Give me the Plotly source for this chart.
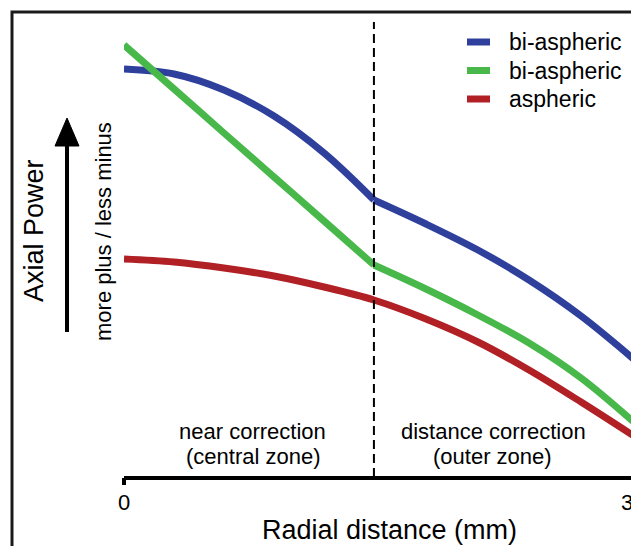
import plotly.graph_objects as go

# ---- data (arbitrary axial-power units vs radial distance in mm) ----
zone_boundary = 1.473

blue_x = [0, 0.295, 0.589, 0.884, 1.179, 1.473, 1.78, 2.086, 2.387, 2.694, 3.024]
blue_y = [4.08, 4.03, 3.87, 3.61, 3.24, 2.77, 2.53, 2.27, 1.97, 1.61, 1.15]

green_x = [0, 0.295, 0.589, 0.884, 1.179, 1.473, 1.78, 2.086, 2.387, 2.694, 3.024]
green_y = [4.32, 3.88, 3.44, 3.00, 2.56, 2.12, 1.88, 1.62, 1.34, 0.99, 0.52]

red_x = [0, 0.295, 0.589, 0.884, 1.179, 1.473, 1.78, 2.086, 2.387, 2.694, 3.024]
red_y = [2.18, 2.15, 2.09, 2.01, 1.90, 1.77, 1.58, 1.35, 1.07, 0.75, 0.39]

series_names = ["bi-aspheric", "bi-aspheric", "aspheric"]
series_colors = ["#2E3F9C", "#49B84A", "#B02025"]
series_kinked = [True, True, False]
tick_vals = [0, 3]
tick_text = ["0", "3"]

# ---- geometry (screen pixels; page body has an 8px margin) ----
OFF = 8
SW, SH = 639, 554
W, H = SW - OFF, SH - 2 * OFF
PL, PR, PT, PB = 124, 639, 20, 477          # plot area in screen pixels
X3 = 633                                   # screen x of the "3" tick
XMAX = 3 * (PR - PL) / (X3 - PL)
FONT = "Liberation Sans, Arial, Helvetica, sans-serif"

def px_x(sx):
    return (sx - PL) / (PR - PL)

def px_y(sy):
    return (PB - sy) / (PB - PT)

fig = go.Figure()
for xs, ys, name, c, kinked in zip([blue_x, green_x, red_x], [blue_y, green_y, red_y],
                                   series_names, series_colors, series_kinked):
    if kinked:
        # split at the zone boundary so the kink stays sharp while each zone is smooth
        k = xs.index(zone_boundary)
        segs = [(xs[:k + 1], ys[:k + 1]), (xs[k:], ys[k:])]
    else:
        segs = [(xs, ys)]
    for sx, sy in segs:
        fig.add_trace(go.Scatter(x=sx, y=sy, mode="lines", name=name, showlegend=False,
                                 line=dict(color=c, width=7, shape="spline", smoothing=1.0),
                                 hoverinfo="skip"))

shapes = [
    dict(type="line", xref="x", yref="paper", x0=zone_boundary, x1=zone_boundary, y0=0, y1=px_y(22),
         line=dict(color="black", width=2, dash="9px,5px")),
    # x axis line from 0 to 3
    dict(type="line", xref="x", yref="paper", x0=tick_vals[0], x1=tick_vals[-1], y0=px_y(478), y1=px_y(478),
         line=dict(color="black", width=4)),
    dict(type="rect", xref="paper", yref="paper", x0=px_x(12), x1=px_x(680), y0=px_y(600), y1=px_y(12),
         line=dict(color="#1a1a1a", width=3), fillcolor="rgba(0,0,0,0)", layer="below"),
    # arrow shaft + head
    dict(type="line", xref="paper", yref="paper", x0=px_x(67), x1=px_x(67), y0=px_y(332), y1=px_y(140),
         line=dict(color="black", width=4)),
    dict(type="path", xref="paper", yref="paper",
         path=f"M {px_x(55)} {px_y(146)} L {px_x(79)} {px_y(146)} L {px_x(67)} {px_y(118)} Z",
         fillcolor="black", line=dict(color="black", width=1)),
]

annotations = []
# manual legend
for i, (name, c) in enumerate(zip(series_names, series_colors)):
    yy = 42 + 28.5 * i
    shapes.append(dict(type="line", xref="paper", yref="paper", x0=px_x(467), x1=px_x(490),
                       y0=px_y(yy), y1=px_y(yy), line=dict(color=c, width=7)))
    annotations.append(dict(text=name, xref="paper", yref="paper", x=px_x(507), y=px_y(yy),
                            xanchor="left", yanchor="middle", showarrow=False,
                            font=dict(size=23, color="black", family=FONT)))

for txt, cx, cy in [("near correction", 252.5, 431), ("(central zone)", 253, 456),
                    ("distance correction", 493, 431), ("(outer zone)", 492.5, 456)]:
    annotations.append(dict(text=txt, xref="paper", yref="paper", x=px_x(cx), y=px_y(cy),
                            xanchor="center", yanchor="middle", showarrow=False,
                            font=dict(size=22, color="black", family=FONT)))

# tick labels (the last one is nudged inward so it stays fully on the page)
for tv, tt in zip(tick_vals, tick_text):
    sx = PL + (X3 - PL) * tv / 3 - (6 if tv == tick_vals[-1] else 0)
    annotations.append(dict(text=tt, xref="paper", yref="paper", x=px_x(sx), y=px_y(502),
                            xanchor="center", yanchor="middle", showarrow=False,
                            font=dict(size=22, color="black", family=FONT)))

annotations += [
    dict(text="Axial Power", xref="paper", yref="paper", x=px_x(34), y=px_y(231), textangle=-90,
         xanchor="center", yanchor="middle", showarrow=False,
         font=dict(size=27, color="black", family=FONT)),
    dict(text="more plus / less minus", xref="paper", yref="paper", x=px_x(103), y=px_y(232),
         textangle=-90, xanchor="center", yanchor="middle", showarrow=False,
         font=dict(size=22, color="black", family=FONT)),
    dict(text="Radial distance (mm)", xref="paper", yref="paper", x=px_x(389), y=px_y(530),
         xanchor="center", yanchor="middle", showarrow=False,
         font=dict(size=27, color="black", family=FONT)),
]

fig.update_layout(
    width=W, height=H,
    margin=dict(l=PL - OFF, r=SW - PR, t=PT - OFF, b=(H + OFF) - PB),
    paper_bgcolor="white", plot_bgcolor="white",
    font=dict(family=FONT, color="black"),
    shapes=shapes, annotations=annotations,
    showlegend=False,
    xaxis=dict(range=[0, XMAX], showgrid=False, zeroline=False, showline=False,
               ticks="outside", ticklen=7, tickwidth=4, tickcolor="black",
               tickvals=tick_vals, showticklabels=False),
    yaxis=dict(range=[0, 4.57], visible=False),
)

fig.write_html("out.html")
